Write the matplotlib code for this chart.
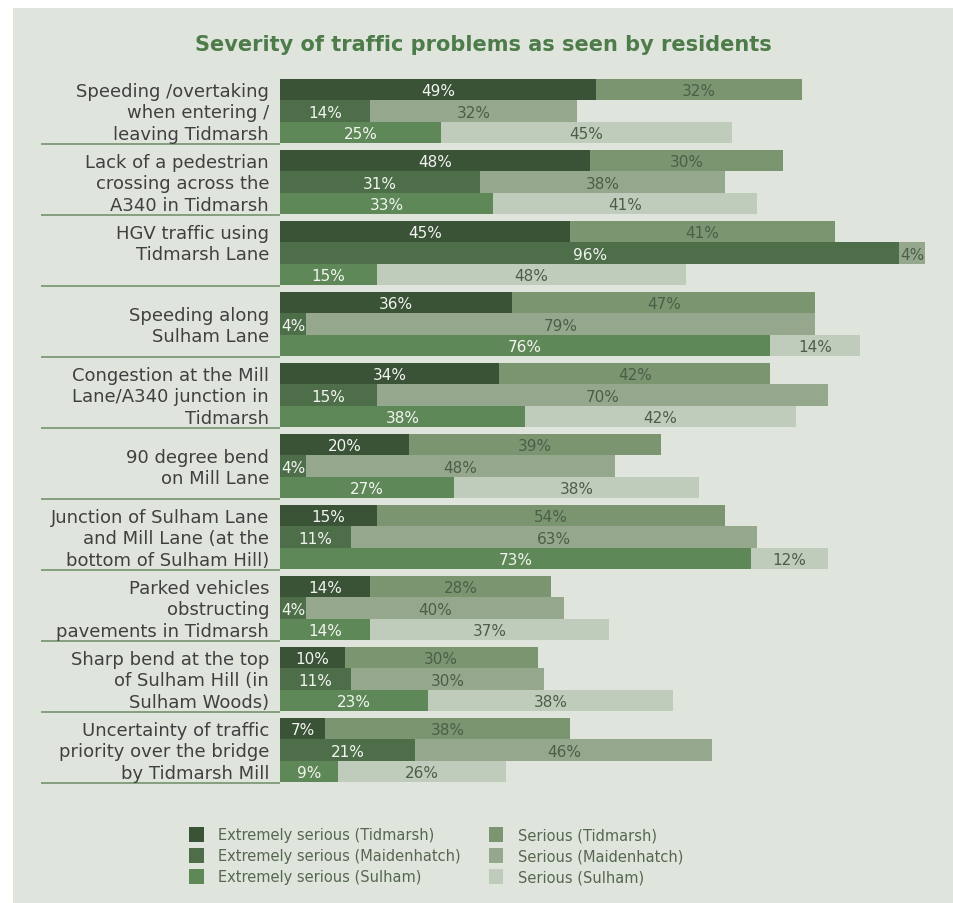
import numpy as np
import matplotlib
matplotlib.use("Agg")
import matplotlib.pyplot as plt
from matplotlib.patches import Rectangle, Patch

# ---- data ----
problems = [
    ["Speeding /overtaking", "when entering /", "leaving Tidmarsh"],
    ["Lack of a pedestrian", "crossing across the", "A340 in Tidmarsh"],
    ["HGV traffic using", "Tidmarsh Lane"],
    ["Speeding along", "Sulham Lane"],
    ["Congestion at the Mill", "Lane/A340 junction in", "Tidmarsh"],
    ["90 degree bend", "on Mill Lane"],
    ["Junction of Sulham Lane", "and Mill Lane (at the", "bottom of Sulham Hill)"],
    ["Parked vehicles", "obstructing", "pavements in Tidmarsh"],
    ["Sharp bend at the top", "of Sulham Hill (in", "Sulham Woods)"],
    ["Uncertainty of traffic", "priority over the bridge", "by Tidmarsh Mill"],
]
label_start = [0, 0, 0, 0.5, 0, 0.5, 0, 0, 0, 0]

villages = ["Tidmarsh", "Maidenhatch", "Sulham"]
ext_tidmarsh = [49, 48, 45, 36, 34, 20, 15, 14, 10, 7]
ser_tidmarsh = [32, 30, 41, 47, 42, 39, 54, 28, 30, 38]
ext_maiden = [14, 31, 96, 4, 15, 4, 11, 4, 11, 21]
ser_maiden = [32, 38, 4, 79, 70, 48, 63, 40, 30, 46]
ext_sulham = [25, 33, 15, 76, 38, 27, 73, 14, 23, 9]
ser_sulham = [45, 41, 48, 14, 42, 38, 12, 37, 38, 26]

extreme = [ext_tidmarsh, ext_maiden, ext_sulham]
serious = [ser_tidmarsh, ser_maiden, ser_sulham]

ext_colors = ["#3a5236", "#4e6e49", "#5e8857"]
ser_colors = ["#7b9570", "#95a88e", "#bfcbbb"]
bg = "#dfe5dd"

# ---- figure ----
W, H = 954, 904
fig = plt.figure(figsize=(W / 100, H / 100), dpi=100)
fig.patch.set_facecolor("white")
fig.patches.append(Rectangle((13 / W, 0), 1, 1 - 9 / H, transform=fig.transFigure,
                             facecolor=bg, edgecolor="none", zorder=-10))

G = 71 / 21.33  # group pitch in bar heights
n = len(problems)
top_px, bot_px = 80, 80 + 9 * 71 + 64
ax = fig.add_axes([280 / W, 1 - bot_px / H, 645 / W, (bot_px - top_px) / H])
ax.set_facecolor("none")
ax.set_xlim(0, 100)
ax.set_ylim((n - 1) * G + 3, 0)
ax.axis("off")

fnt = "DejaVu Sans"
for k in range(n):
    for j in range(3):
        y = k * G + j
        e = extreme[j][k]
        s = serious[j][k]
        ax.barh(y, e, height=1, left=0, align="edge", color=ext_colors[j], lw=0)
        ax.barh(y, s, height=1, left=e, align="edge", color=ser_colors[j], lw=0)
        ax.text(e / 2, y + 0.5 + 0.26, f"{e}%", ha="center", va="baseline",
                color="#f2f4f0", fontsize=11, family=fnt)
        ax.text(e + s / 2, y + 0.5 + 0.26, f"{s}%", ha="center", va="baseline",
                color="#4d5e48", fontsize=11, family=fnt)
    # category label
    for i, line in enumerate(problems[k]):
        ax.text(-1.7, k * G + label_start[k] + i + 0.5 + 0.3, line, ha="right",
                va="baseline", color="#404040", fontsize=13, family=fnt)
    # separator
    ax.plot([-(280 - 41) / 6.45, 0], [k * G + 3.05] * 2, color="#7d9a76",
            lw=1.3, clip_on=False, solid_capstyle="butt")

fig.text(483 / W, 1 - 45 / H, "Severity of traffic problems as seen by residents",
         ha="center", va="center", color="#4e7b4a", fontsize=15, weight="bold",
         family=fnt)

handles = [Patch(facecolor=c, edgecolor="none") for c in ext_colors + ser_colors]
labels = [f"Extremely serious ({v})" for v in villages] + \
         [f"Serious ({v})" for v in villages]
leg = fig.legend(handles, labels, ncol=2, loc="upper left",
                 bbox_to_anchor=(189 / W, 1 - 828 / H), frameon=False,
                 fontsize=10.5, handlelength=1.0, handleheight=1.2,
                 handletextpad=1.0, columnspacing=1.9, labelspacing=0.38,
                 borderpad=0, borderaxespad=0)
for t in leg.get_texts():
    t.set_color("#56664f")
    t.set_family(fnt)

fig.savefig("out.png", dpi=100, facecolor=fig.get_facecolor())
